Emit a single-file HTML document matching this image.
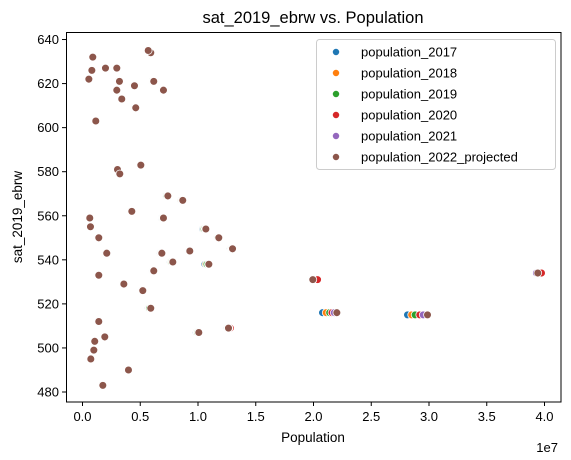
<!DOCTYPE html>
<html><head><meta charset="utf-8"><style>
body{margin:0;background:#fff;}
svg{font-family:"Liberation Sans","DejaVu Sans",sans-serif;}
</style></head><body>
<svg id="chart" width="571" height="455" viewBox="0 0 571 455">
<rect width="571" height="455" fill="#fff"/>
<text x="313" y="23" font-size="16.5" text-anchor="middle" fill="#000">sat_2019_ebrw vs. Population</text>
<g id="marks"></g>
<rect x="66.5" y="32.5" width="494.5" height="369.5" fill="none" stroke="#000" stroke-width="1"/>
<g id="xticks"></g><g id="yticks"></g>
<text x="313" y="442" font-size="13.5" text-anchor="middle">Population</text>
<text x="558" y="452" font-size="13" text-anchor="end">1e7</text>
<text transform="translate(22,217) rotate(-90)" font-size="13.5" text-anchor="middle">sat_2019_ebrw</text>
<g id="legend"></g>
</svg>
<script>
const sat=[632,626,622,627,627,634,635,621,617,619,621,617,613,609,603,583,581,579,569,567,559,555,559,562,554,550,550,543,543,544,545,539,538,535,533,529,526,518,512,509,507,505,503,499,495,490,483,531,516,515,534];
const pop2022=[0.89,0.81,0.55,1.99,2.97,5.91,5.69,3.20,2.97,4.50,6.17,7.01,3.40,4.61,1.15,5.05,3.03,3.23,7.39,8.68,0.63,0.69,7.01,4.27,10.68,1.41,11.80,2.10,6.87,9.29,12.99,7.82,10.94,6.17,1.41,3.58,5.22,5.91,1.41,12.64,10.07,1.93,1.06,0.98,0.72,3.98,1.76,19.94,22.02,29.87,39.42];
const pop2017=[0.87,0.79,0.54,1.93,2.90,5.80,5.60,3.12,2.90,4.40,6.05,6.90,3.33,4.50,1.13,4.95,2.98,3.17,7.20,8.50,0.62,0.68,6.85,4.20,10.40,1.38,11.65,2.05,6.70,9.20,12.80,7.60,10.60,6.05,1.38,3.50,5.10,5.70,1.38,12.50,9.85,1.90,1.05,0.97,0.71,3.95,1.72,19.92,20.78,28.14,39.40];
const pop2018=[0.88,0.80,0.54,1.95,2.92,5.83,5.63,3.14,2.92,4.43,6.08,6.93,3.35,4.53,1.14,4.98,2.99,3.19,7.25,8.55,0.62,0.68,6.90,4.22,10.47,1.39,11.69,2.06,6.75,9.22,12.85,7.65,10.70,6.09,1.39,3.52,5.13,5.75,1.39,12.55,9.91,1.91,1.05,0.97,0.71,3.96,1.73,19.92,21.10,28.50,39.50];
const pop2019=[0.88,0.80,0.55,1.96,2.93,5.85,5.65,3.16,2.93,4.45,6.11,6.95,3.36,4.55,1.14,5.00,3.00,3.20,7.28,8.60,0.62,0.68,6.93,4.23,10.53,1.40,11.72,2.07,6.80,9.25,12.90,7.70,10.78,6.11,1.40,3.54,5.15,5.80,1.40,12.60,9.96,1.92,1.06,0.97,0.71,3.97,1.74,19.93,21.40,28.80,39.50];
const pop2020=[0.89,0.81,0.55,1.98,2.95,5.89,5.68,3.19,2.95,4.48,6.15,6.99,3.39,4.59,1.15,5.03,3.01,3.21,7.35,8.65,0.63,0.69,6.98,4.25,10.62,1.41,11.79,2.09,6.85,9.28,13.00,7.77,10.90,6.15,1.41,3.56,5.19,5.89,1.41,12.80,10.03,1.93,1.06,0.98,0.72,3.98,1.75,20.35,21.60,29.20,39.74];
const pop2021=[0.89,0.81,0.55,1.98,2.96,5.90,5.69,3.19,2.96,4.49,6.16,7.00,3.39,4.60,1.15,5.04,3.02,3.22,7.37,8.67,0.63,0.69,7.00,4.26,10.65,1.41,11.78,2.10,6.86,9.28,12.95,7.80,10.92,6.16,1.41,3.57,5.20,5.90,1.41,12.68,10.05,1.93,1.06,0.98,0.72,3.98,1.76,19.94,21.80,29.50,39.30];
const seriesNames=["population_2017","population_2018","population_2019","population_2020","population_2021","population_2022_projected"];
const seriesColors=["#1f77b4","#ff7f0e","#2ca02c","#d62728","#9467bd","#8c564b"];
const xTicks=[0,0.5,1,1.5,2,2.5,3,3.5,4];
const xTickLabels=["0.0","0.5","1.0","1.5","2.0","2.5","3.0","3.5","4.0"];
const yTicks=[480,500,520,540,560,580,600,620,640];
const NS="http://www.w3.org/2000/svg";
function xs(m){return 82.5+(m/10)*115.5;}
function xsE7(v){return 82.5+v*115.5;}
function ys(v){return 392-(v-480)*2.203;}
const allPops=[pop2017,pop2018,pop2019,pop2020,pop2021,pop2022];
const marks=document.getElementById('marks');
allPops.forEach((arr,si)=>{
  const g=document.createElementNS(NS,'g');
  
  
  arr.forEach((p,i)=>{
    const c=document.createElementNS(NS,'circle');
    c.setAttribute('cx',xs(p));c.setAttribute('cy',ys(sat[i]));c.setAttribute('r',3.9);
    c.setAttribute('fill',seriesColors[si]);c.setAttribute('stroke','#fff');c.setAttribute('stroke-width',0.75);
    
    
    g.appendChild(c);
  });
  marks.appendChild(g);
});
const xg=document.getElementById('xticks');
xTicks.forEach((t,i)=>{
  const x=xsE7(t);
  const l=document.createElementNS(NS,'line');
  l.setAttribute('x1',x);l.setAttribute('x2',x);l.setAttribute('y1',402);l.setAttribute('y2',406);l.setAttribute('stroke','#000');
  
  
  xg.appendChild(l);
  const tx=document.createElementNS(NS,'text');
  tx.setAttribute('x',x);tx.setAttribute('y',421);tx.setAttribute('font-size','13');tx.setAttribute('text-anchor','middle');
  tx.textContent=xTickLabels[i];
  
  
  xg.appendChild(tx);
});
const yg=document.getElementById('yticks');
yTicks.forEach(t=>{
  const y=ys(t);
  const l=document.createElementNS(NS,'line');
  l.setAttribute('x1',62);l.setAttribute('x2',66);l.setAttribute('y1',y);l.setAttribute('y2',y);l.setAttribute('stroke','#000');
  
  
  yg.appendChild(l);
  const tx=document.createElementNS(NS,'text');
  tx.setAttribute('x',59);tx.setAttribute('y',y+4.5);tx.setAttribute('font-size','13');tx.setAttribute('text-anchor','end');
  tx.textContent=t;
  
  
  yg.appendChild(tx);
});
const lg=document.getElementById('legend');
const box=document.createElementNS(NS,'rect');
box.setAttribute('x',316.5);box.setAttribute('y',39.5);box.setAttribute('width',239);box.setAttribute('height',130);box.setAttribute('rx',3);
box.setAttribute('fill','#fff');box.setAttribute('fill-opacity','0.8');box.setAttribute('stroke','#ccc');


lg.appendChild(box);
seriesNames.forEach((n,i)=>{
  const y=52+i*21;
  const c=document.createElementNS(NS,'circle');
  c.setAttribute('cx',336);c.setAttribute('cy',y);c.setAttribute('r',3.6);c.setAttribute('fill',seriesColors[i]);c.setAttribute('stroke','#fff');c.setAttribute('stroke-width',0.75);
  
  
  lg.appendChild(c);
  const t=document.createElementNS(NS,'text');
  t.setAttribute('x',361);t.setAttribute('y',y+4.5);t.setAttribute('font-size','13');
  t.textContent=n;
  
  
  lg.appendChild(t);
});
</script>
</body></html>
